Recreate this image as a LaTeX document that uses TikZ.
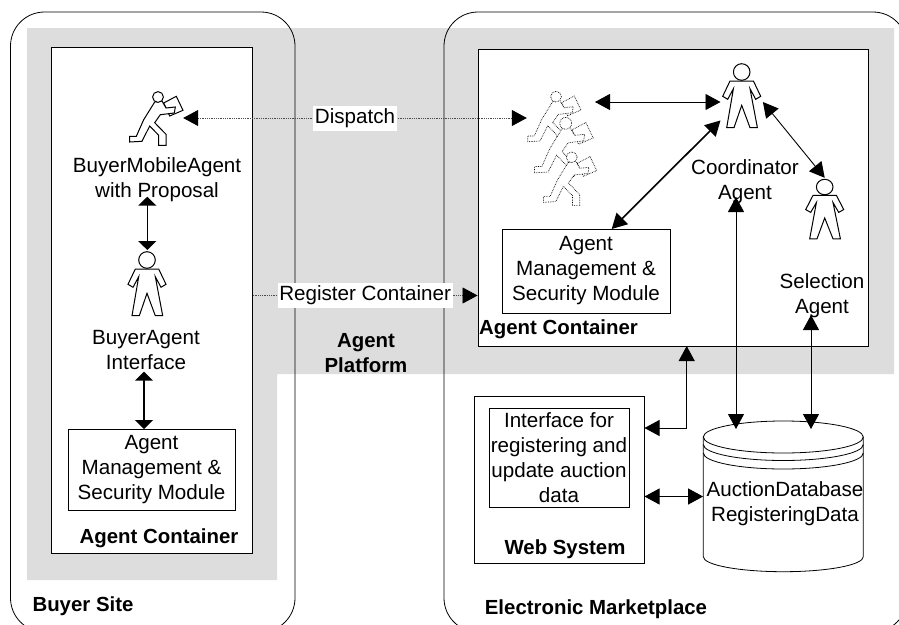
\documentclass[tikz,border=0pt]{standalone}
\usepackage{fontspec}
\setmainfont{Liberation Sans}
\usetikzlibrary{arrows.meta, positioning}
\definecolor{platformgray}{HTML}{DDDDDD}
\tikzset{
	>={Triangle[width=16pt,length=15pt,color=black]},
	shorttip/.tip={Triangle[width=18pt,length=9pt,color=black]},
	txt/.style={align=center,font=\fontsize{20.6}{25}\selectfont,inner sep=0pt},
	boldtxt/.style={txt,font=\fontsize{20.4}{25}\selectfont\bfseries},
	boxnode/.style={draw,fill=white,inner sep=0pt,line width=.9pt},
	figbox/.style={inner sep=0pt,minimum width=#1},
	wirelabel/.style={txt,fill=white,text=black,inner xsep=1.5pt,minimum height=25pt},
	link/.style={<->,line width=.9pt},
	boldlink/.style={<->,line width=1.6pt},
	shortlink/.style={shorttip-shorttip,line width=1.6pt},
	dotlink/.style={densely dotted,line width=.8pt,black!70},
	personfig/.pic={
		\draw[fill=white,line width=1pt] (-11.7,9) -- (-19,24.3) -- (-14,27.3) -- (-8.3,16.7) -- (-15,55.7) -- (-7.7,55.7) -- (0,33.3)
			-- (8.3,55.7) -- (15.7,55.7) -- (8.3,16.7) -- (14,27.3) -- (19,24.3) -- (11.7,9) -- cycle;
		\draw[fill=white,line width=1pt] (0,0) circle (8.3);
	},
	runnerfig/.pic={
		\draw[fill=white,pic actions] (5.7,6) -- (18.3,-.7) -- (25,13.3) -- (11.7,19) -- cycle;
		\draw[fill=white,pic actions] (-3.3,5) -- (-14.3,22.7) -- (-21.7,39.3) -- (-28.3,39.3) -- (-28.3,45) -- (-16,44.3) -- (-8.3,29)
			-- (.7,38.3) -- (.7,48.3) -- (8,48.3) -- (8,37.3) -- (-3.3,25.7) -- (2.3,17.7) -- (16.3,16) -- (17.3,10) -- (8,11) -- (4,4) -- cycle;
		\draw[fill=white,pic actions] (0,0) circle (5.4);
	}
}
\begin{document}
\begin{tikzpicture}[x=1pt,y=-1pt]
	\useasboundingbox (0,0) rectangle (899,624);
	\clip (0,0) rectangle (899,624);
	\fill[platformgray] (27,28) -- (894,28) -- (894,374) -- (277,374) -- (277,580) -- (27,580) -- cycle;
	\draw[line width=.8pt,rounded corners=34pt] (10.5,12) rectangle (295,632);
	\draw[line width=.8pt,rounded corners=34pt] (444,12) rectangle (907,632);
	\node[boxnode,minimum width=201pt,minimum height=506pt] (buyercontainer) at (151.5,300) {};
	\node[boxnode,minimum width=390pt,minimum height=297pt] (marketcontainer) at (673,197.5) {};

	\pic[line width=1pt] at (158,97) {runnerfig};
	\node[figbox=54pt,minimum height=53pt] (buyermobile) at (156,118) {};
	\node[txt] (mobilelabel) at (157,180) {BuyerMobileAgent\\with Proposal};
	\pic at (147,260) {personfig};
	\node[txt] (buyerlabel) at (146,350) {BuyerAgent\\Interface};
	\node[boxnode,txt,draw,fill=white,minimum width=167pt,minimum height=81pt] (buyermodule) at (151.5,470) {Agent\\Management \&\\Security Module};
	\node[boldtxt] (buyertitle) at (159,538) {Agent Container};
	\node[boldtxt] (buyersite) at (83,606) {Buyer Site};

	\pic[densely dotted,line width=.7pt] at (556,96.7) {runnerfig};
	\pic[densely dotted,line width=.7pt,scale=1.1] at (565.7,123.3) {runnerfig};
	\pic[densely dotted,line width=.7pt] at (571.7,157.3) {runnerfig};
	\node[figbox=76pt,minimum height=32pt] (mobilegroup) at (565,118) {};
	\pic at (741.7,72) {personfig};
	\node[figbox=42pt,minimum height=78pt] (coordinator) at (741.7,102) {};
	\pic[yscale=.93] at (824.7,187) {personfig};
	\node[figbox=40pt,minimum height=60pt] (selection) at (824.7,208) {};
	\node[txt] (coordlabel) at (745,182) {Coordinator\\Agent};
	\node[txt] (selectlabel) at (822,296) {Selection\\Agent};
	\node[boxnode,txt,draw,fill=white,minimum width=168pt,minimum height=84pt] (marketmodule) at (586,271) {Agent\\Management \&\\Security Module};
	\node[boldtxt] (markettitle) at (558.5,329) {Agent Container};
	\node[boldtxt] (platform) at (366,353) {Agent\\Platform};

	\node[boxnode,minimum width=169.5pt,minimum height=167pt] (websystem) at (559.5,480) {};
	\node[boxnode,txt,draw,fill=white,minimum width=140pt,minimum height=99pt] (interfacebox) at (559,458) {Interface for\\registering and\\update auction\\data};
	\node[boldtxt] (webtitle) at (565,549) {Web System};
	\node[boldtxt] (markettext) at (596,609) {Electronic Marketplace};

	\draw[fill=white,line width=.8pt] (703.3,437) arc[start angle=180,end angle=360,x radius=80,y radius=16] -- (863.3,556.7)
		arc[start angle=0,end angle=180,x radius=80,y radius=15] -- cycle;
	\draw[line width=.8pt] (703.3,437) arc[start angle=180,end angle=0,x radius=80,y radius=16];
	\draw[line width=.8pt] (703.3,444.5) arc[start angle=180,end angle=0,x radius=80,y radius=16];
	\draw[line width=.8pt] (703.3,453) arc[start angle=180,end angle=0,x radius=80,y radius=16];
	\node[minimum width=160pt,minimum height=151pt,inner sep=0pt] (database) at (783.3,496.5) {};
	\node[txt] (dblabel) at (785,503.5) {AuctionDatabase\\RegisteringData};

	\coordinate (mobilebottom) at (147.3,196.7);
	\coordinate (buyerhead) at (147.3,250);
	\coordinate (ifacebottom) at (144,371.7);
	\coordinate (moduletop) at (144,429);
	\coordinate (coordbottom) at (736,197);
	\coordinate (dbleft) at (736,429);
	\coordinate (selectbottom) at (811,315);
	\coordinate (dbright) at (811,429);
	\coordinate (registerstart) at (252.7,295.5);
	\coordinate (groupright) at (595,102);
	\coordinate (webcorner) at (686.7,428);
	\coordinate (webarrow) at (644.5,428);
	\coordinate (containerbottom) at (686.7,346);
	\coordinate (moduletip) at (611.7,229);

	\draw[<->,dotlink] (buyermobile) -- node[wirelabel] (dispatchlabel) {Dispatch} (mobilegroup.west);
	\draw[->,dotlink] (registerstart) -- node[wirelabel] (registerlabel) {Register Container} (marketcontainer.west |- registerstart);
	\path[link]
		(groupright) edge (coordinator.west)
		(coordinator.east) edge (selection.north)
		(coordbottom) edge (dbleft)
		(selectbottom) edge (dbright)
		(webarrow |- database.west) edge (database.west);
	\draw[link] (webarrow) -- (webcorner) -- (containerbottom);
	\path[shortlink]
		(mobilebottom) edge (buyerhead)
		(ifacebottom) edge (moduletop);
	\path[boldlink]
		(coordinator.221) edge (moduletip);
\end{tikzpicture}
\end{document}
